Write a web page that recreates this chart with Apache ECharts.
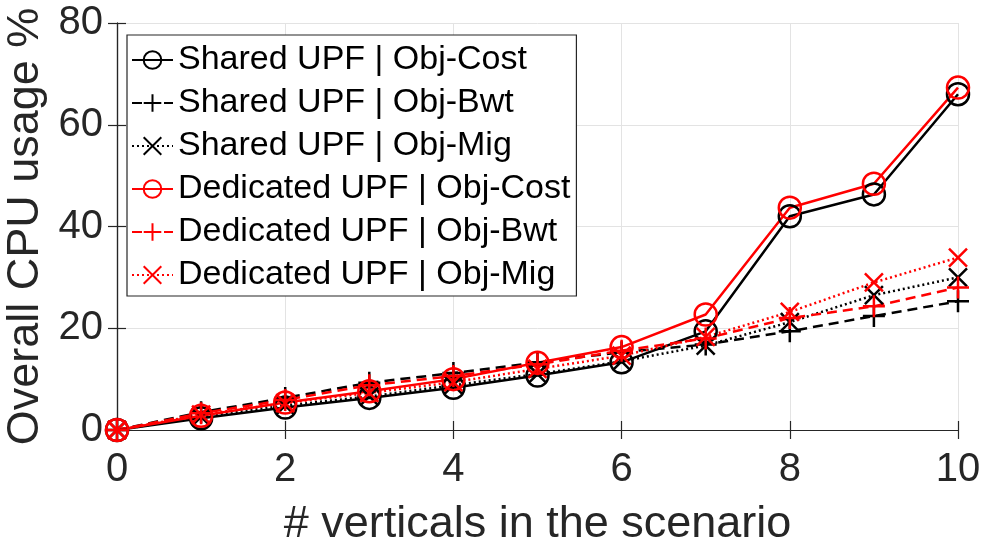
<!DOCTYPE html>
<html>
<head>
<meta charset="utf-8">
<style>
  html, body { margin: 0; padding: 0; background: #fff; }
  #chart { width: 981px; height: 543px; }
</style>
<script src="https://cdn.jsdelivr.net/npm/echarts@6/dist/echarts.min.js"></script>
</head>
<body>
<div id="chart"></div>
<script>
// Number of verticals in the scenario
const verticals = [0, 1, 2, 3, 4, 5, 6, 7, 8, 9, 10];

// Overall CPU usage (%) per configuration
const sharedCost    = [0, 2.3, 4.4, 6.3, 8.3, 10.7, 13.3, 19.4, 42.0, 46.3, 66.0];
const sharedBwt     = [0, 3.5, 6.3, 9.3, 11.2, 13.3, 15.3, 16.8, 19.4, 22.4, 25.3];
const sharedMig     = [0, 2.6, 4.8, 6.6, 8.8, 11.0, 13.5, 16.6, 21.2, 26.5, 30.0];
const dedicatedCost = [0, 2.8, 5.4, 7.6, 10.0, 13.2, 16.3, 22.7, 43.7, 48.4, 67.3];
const dedicatedBwt  = [0, 3.3, 5.9, 8.8, 10.6, 12.9, 15.6, 18.0, 22.0, 24.3, 28.0];
const dedicatedMig  = [0, 3.0, 5.3, 7.3, 9.4, 12.0, 14.6, 18.3, 23.2, 29.0, 33.9];

const seriesNames = [
  'Shared UPF | Obj-Cost',
  'Shared UPF | Obj-Bwt',
  'Shared UPF | Obj-Mig',
  'Dedicated UPF | Obj-Cost',
  'Dedicated UPF | Obj-Bwt',
  'Dedicated UPF | Obj-Mig'
];

const FONT = '"Liberation Sans", Arial, Helvetica, sans-serif';
const PLUS = 'path://M0,-10L0,10M-10,0L10,0';
const CROSS = 'path://M-10,-10L10,10M-10,10L10,-10';

function pairs(ys) { return verticals.map((x, i) => [x, ys[i]]); }

function makeSeries(name, ys, color, dash, marker) {
  const isCircle = marker === 'circle';
  return {
    name: name,
    type: 'line',
    data: pairs(ys),
    symbol: isCircle ? 'circle' : (marker === 'plus' ? PLUS : CROSS),
    symbolSize: isCircle ? 22 : (marker === 'plus' ? 22 : 18),
    showSymbol: true,
    lineStyle: { color: color, width: 2.5, type: dash },
    itemStyle: { color: 'transparent', borderColor: color, borderWidth: 2.5 },
    emphasis: { disabled: true },
    animation: false,
    z: 3
  };
}

const chart = echarts.init(document.getElementById('chart'), null, { renderer: 'canvas' });

const axisLine = { show: true, lineStyle: { color: '#262626', width: 1.2 } };
const axisTick = { show: true, inside: true, length: 9, lineStyle: { color: '#262626', width: 1.2 } };
const gridLine = { show: true, lineStyle: { color: '#e3e3e3', width: 1 } };

chart.setOption({
  backgroundColor: '#ffffff',
  animation: false,
  grid: { left: 117, right: 23, top: 23, bottom: 113, containLabel: false, outerBoundsMode: 'none' },
  xAxis: [
    {
      type: 'value', min: 0, max: 10, interval: 2, position: 'bottom',
      name: '# verticals in the scenario', nameLocation: 'middle', nameGap: 72,
      nameTextStyle: { fontFamily: FONT, fontSize: 45, color: '#262626' },
      axisLabel: { fontFamily: FONT, fontSize: 40, color: '#262626', margin: 20 },
      axisLine: axisLine, axisTick: axisTick, splitLine: gridLine
    },
    {
      type: 'value', min: 0, max: 10, interval: 2, position: 'top',
      axisLabel: { show: false }, axisLine: axisLine, axisTick: axisTick, splitLine: { show: false }
    }
  ],
  yAxis: [
    {
      type: 'value', min: 0, max: 80, interval: 20, position: 'left',
      name: 'Overall CPU usage %', nameLocation: 'middle', nameGap: 66, nameRotate: 90,
      nameTextStyle: { fontFamily: FONT, fontSize: 45, color: '#262626' },
      axisLabel: { fontFamily: FONT, fontSize: 40, color: '#262626', margin: 14 },
      axisLine: axisLine, axisTick: axisTick, splitLine: gridLine
    },
    {
      type: 'value', min: 0, max: 80, interval: 20, position: 'right',
      axisLabel: { show: false }, axisLine: axisLine, axisTick: axisTick, splitLine: { show: false }
    }
  ],
  legend: {
    show: true,
    orient: 'vertical',
    left: 127, top: 35,
    padding: [7, 6, 3, 4],
    itemWidth: 41, itemHeight: 22, itemGap: 7,
    backgroundColor: '#ffffff',
    borderColor: '#262626', borderWidth: 1.2, borderRadius: 0,
    textStyle: { fontFamily: FONT, fontSize: 34, color: '#000', lineHeight: 36 },
    data: seriesNames,
    selectedMode: false
  },
  series: [
    makeSeries(seriesNames[0], sharedCost, '#000000', 'solid', 'circle'),
    makeSeries(seriesNames[1], sharedBwt, '#000000', [10, 6], 'plus'),
    makeSeries(seriesNames[2], sharedMig, '#000000', [2, 3], 'cross'),
    makeSeries(seriesNames[3], dedicatedCost, '#ff0000', 'solid', 'circle'),
    makeSeries(seriesNames[4], dedicatedBwt, '#ff0000', [10, 6], 'plus'),
    makeSeries(seriesNames[5], dedicatedMig, '#ff0000', [2, 3], 'cross')
  ]
});
</script>
</body>
</html>
